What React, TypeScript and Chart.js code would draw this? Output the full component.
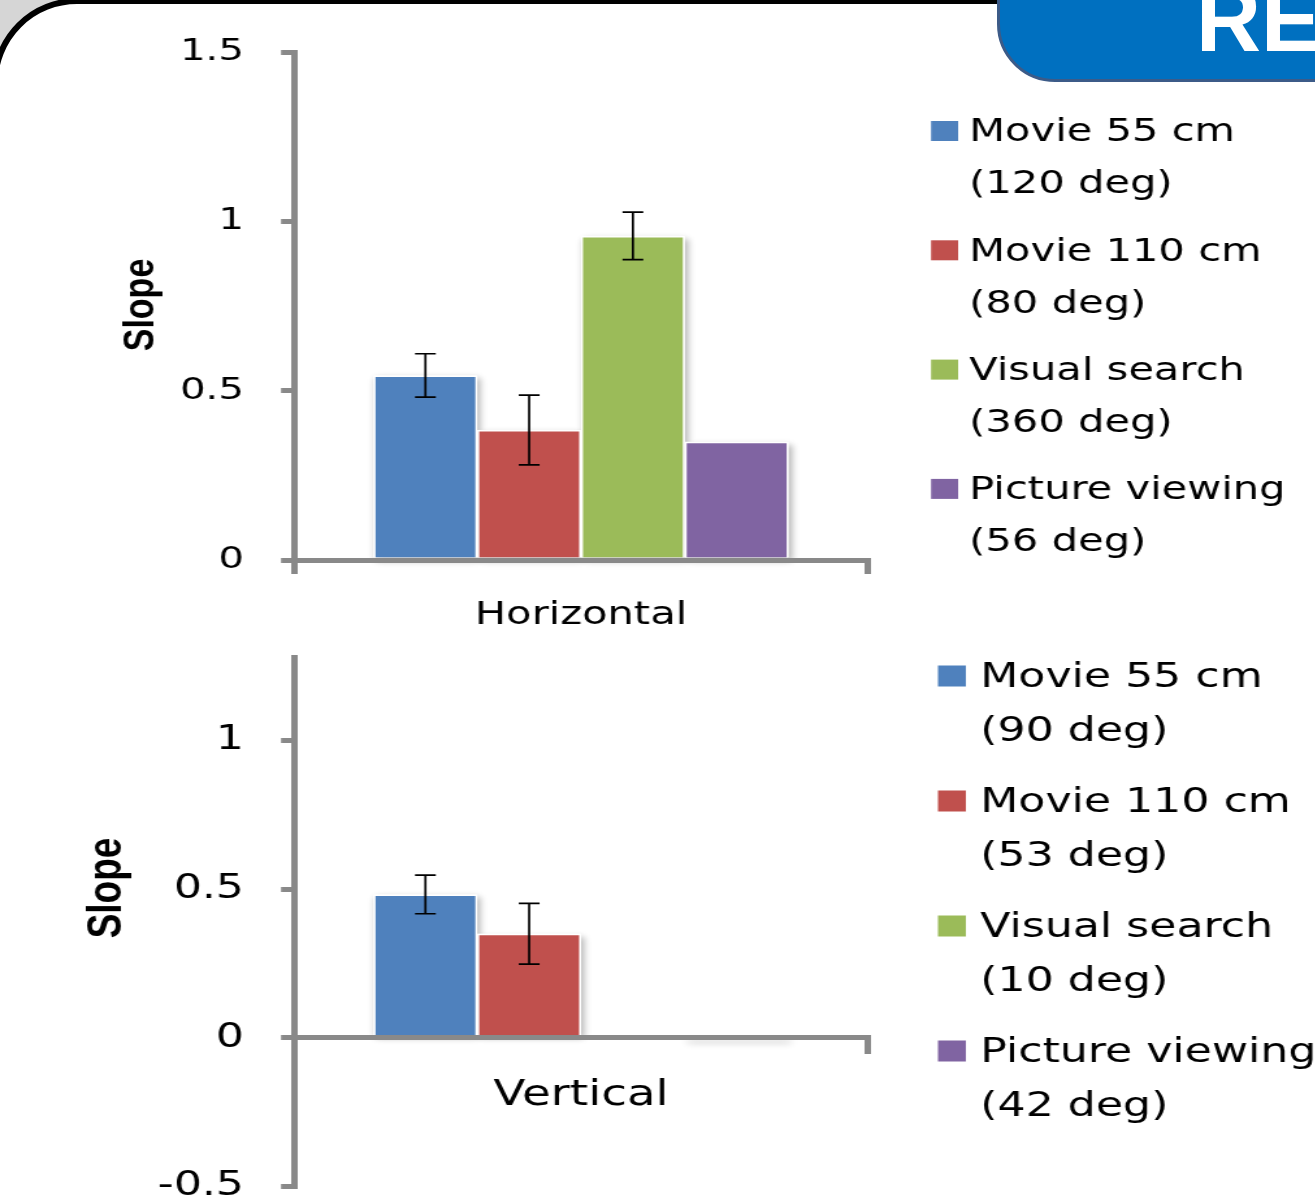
import { useEffect, useRef } from 'react';
import { Chart, registerables } from 'chart.js';

Chart.register(...registerables);

// ---- data ----
const seriesNames = ['Movie 55 cm', 'Movie 110 cm', 'Visual search', 'Picture viewing'];
const seriesColors = ['#4f81bd', '#c0504d', '#9bbb59', '#8064a2'];

const horizontalCategory = ['Horizontal'];
const horizontalFov = ['(120 deg)', '(80 deg)', '(360 deg)', '(56 deg)'];
const horizontalSlopes: (number | null)[] = [0.545, 0.384, 0.957, 0.349];
const horizontalErrors: (number | null)[] = [0.064, 0.103, 0.07, null];
const horizontalRange = [0, 1.5];

const verticalCategory = ['Vertical'];
const verticalFov = ['(90 deg)', '(53 deg)', '(10 deg)', '(42 deg)'];
const verticalSlopes: (number | null)[] = [0.482, 0.35, null, 0];
const verticalErrors: (number | null)[] = [0.065, 0.102, null, null];
const verticalRange = [-0.5, 1.28];

const tickStep = 0.5;
const axisTitle = 'Slope';

// ---- look ----
const STRETCH = 1.3;
const CANVAS_W = 1012;
const AXIS_GREY = '#898989';
const TEXT_FONT = '"DejaVu Sans", Verdana, sans-serif';
const TITLE_FONT = '"Liberation Sans", Arial, sans-serif';

type LegendSpec = {
  boxX: number; boxW: number; boxH: number; textX: number;
  firstY: number; entryGap: number; lineGap: number; font: number;
};

type PanelSpec = {
  top: number; height: number;
  category: string[]; values: (number | null)[]; errors: (number | null)[]; fov: string[];
  range: number[];
  padTop: number; padBottom: number; padRight: number; yAxisWidth: number;
  xAxisHeight: number; xPosition: any;
  tickFont: number; labelFont: number; labelPad: number;
  caption: { x: number; y: number; size: number };
  legend: LegendSpec;
};

const panels: PanelSpec[] = [
  {
    top: 0, height: 640,
    category: horizontalCategory, values: horizontalSlopes, errors: horizontalErrors, fov: horizontalFov,
    range: horizontalRange,
    padTop: 52, padBottom: 0, padRight: 344.3, yAxisWidth: 226.2,
    xAxisHeight: 80, xPosition: 'bottom',
    tickFont: 31, labelFont: 32, labelPad: 22.8,
    caption: { x: 108.5, y: 305, size: 34 },
    legend: { boxX: 716.2, boxW: 20.8, boxH: 20, textX: 745.5, firstY: 133, entryGap: 119.3, lineGap: 52, font: 32 },
  },
  {
    top: 600, height: 604,
    category: verticalCategory, values: verticalSlopes, errors: verticalErrors, fov: verticalFov,
    range: verticalRange,
    padTop: 57, padBottom: 17.4, padRight: 344.3, yAxisWidth: 226.2,
    xAxisHeight: 0, xPosition: { y: 0 },
    tickFont: 34, labelFont: 36, labelPad: 22.4,
    caption: { x: 83, y: 288, size: 37 },
    legend: { boxX: 721.5, boxW: 21.5, boxH: 21, textX: 754, firstY: 78, entryGap: 125, lineGap: 54.5, font: 34 },
  },
];

// soft drop shadow behind each bar
const barShadow = {
  id: 'barShadow',
  beforeDatasetsDraw(chart: any) {
    const ctx = chart.ctx;
    chart.data.datasets.forEach((ds: any, i: number) => {
      const meta = chart.getDatasetMeta(i);
      meta.data.forEach((el: any, j: number) => {
        const v = ds.data[j];
        if (v === null || v === undefined) return;
        const { x, y, base, width } = el.getProps(['x', 'y', 'base', 'width'], true);
        const top = Math.min(y, base);
        const h = Math.max(Math.abs(base - y), 2);
        ctx.save();
        ctx.shadowColor = 'rgba(0,0,0,0.32)';
        ctx.shadowBlur = 6;
        ctx.shadowOffsetX = 2;
        ctx.shadowOffsetY = 3;
        ctx.fillStyle = '#ffffff';
        ctx.fillRect(x - width / 2, top, width, h);
        ctx.restore();
      });
    });
  },
};

function makeErrorBars(errors: (number | null)[]) {
  return {
    id: 'errorBars',
    afterDatasetsDraw(chart: any) {
      const ctx = chart.ctx;
      const yScale = chart.scales.y;
      const cap = 8;
      chart.data.datasets.forEach((ds: any, i: number) => {
        const e = errors[i];
        const v = ds.data[0];
        if (e === null || e === undefined || v === null || v === undefined) return;
        const el = chart.getDatasetMeta(i).data[0];
        const x = el.x;
        const yHi = yScale.getPixelForValue(v + e);
        const yLo = yScale.getPixelForValue(v - e);
        ctx.save();
        ctx.strokeStyle = '#000';
        ctx.lineWidth = 1.7;
        ctx.beginPath();
        ctx.moveTo(x, yHi); ctx.lineTo(x, yLo);
        ctx.moveTo(x - cap, yHi); ctx.lineTo(x + cap, yHi);
        ctx.moveTo(x - cap, yLo); ctx.lineTo(x + cap, yLo);
        ctx.stroke();
        ctx.restore();
      });
    },
  };
}

function makeLegend(spec: LegendSpec, fov: string[]) {
  return {
    id: 'sideLegend',
    afterDraw(chart: any) {
      const ctx = chart.ctx;
      ctx.save();
      ctx.font = `${spec.font}px ${TEXT_FONT}`;
      ctx.textAlign = 'left';
      ctx.textBaseline = 'middle';
      chart.data.datasets.forEach((ds: any, i: number) => {
        const cy = spec.firstY + i * spec.entryGap;
        ctx.fillStyle = ds.backgroundColor;
        ctx.fillRect(spec.boxX, cy - 2 - spec.boxH / 2, spec.boxW, spec.boxH);
        ctx.fillStyle = '#000';
        ctx.fillText(ds.label, spec.textX, cy);
        ctx.fillText(fov[i], spec.textX, cy + spec.lineGap);
      });
      ctx.restore();
    },
  };
}

function makeCaption(c: { x: number; y: number; size: number }) {
  return {
    id: 'yCaption',
    afterDraw(chart: any) {
      const ctx = chart.ctx;
      ctx.save();
      ctx.translate(c.x, c.y);
      ctx.rotate(-Math.PI / 2);
      ctx.font = `bold ${c.size}px ${TITLE_FONT}`;
      ctx.fillStyle = '#000';
      ctx.textAlign = 'center';
      ctx.textBaseline = 'middle';
      ctx.fillText(axisTitle, 0, 0);
      ctx.restore();
    },
  };
}

function SlopePanel({ spec }: { spec: PanelSpec }) {
  const ref = useRef<HTMLCanvasElement | null>(null);

  useEffect(() => {
    if (!ref.current) return;
    const datasets = seriesNames.map((name, i) => ({
      label: name,
      data: [spec.values[i]],
      backgroundColor: seriesColors[i],
      borderColor: '#ffffff',
      borderWidth: 1.5,
      categoryPercentage: 0.723,
      barPercentage: 1,
    }));

    const chart = new Chart(ref.current, {
      type: 'bar',
      data: { labels: spec.category, datasets },
      options: {
        responsive: false,
        animation: false,
        devicePixelRatio: 1,
        layout: { padding: { left: 0, top: spec.padTop, right: spec.padRight, bottom: spec.padBottom } },
        plugins: { legend: { display: false }, tooltip: { enabled: false }, title: { display: false } },
        scales: {
          x: {
            type: 'category',
            position: spec.xPosition,
            offset: true,
            ticks: {
              color: '#000',
              font: { family: TEXT_FONT, size: spec.labelFont },
              padding: spec.labelPad,
              maxRotation: 0,
            },
            grid: {
              offset: true,
              drawOnChartArea: false,
              drawTicks: true,
              tickLength: 14,
              lineWidth: 5,
              color: AXIS_GREY,
              z: 1,
            },
            border: { display: true, color: AXIS_GREY, width: 5, z: 1 },
            afterFit: (scale: any) => {
              scale.height = spec.xAxisHeight;
              scale.paddingLeft = 0;
              scale.paddingRight = 0;
            },
          },
          y: {
            type: 'linear',
            min: spec.range[0],
            max: spec.range[1],
            ticks: {
              stepSize: tickStep,
              color: '#000',
              font: { family: TEXT_FONT, size: spec.tickFont },
              padding: 28.5,
              callback: (value: any) => String(Number(value)),
            },
            grid: {
              drawOnChartArea: false,
              drawTicks: true,
              tickLength: 10,
              lineWidth: 5,
              color: AXIS_GREY,
              z: 1,
            },
            border: { display: true, color: AXIS_GREY, width: 5, z: 1 },
            afterBuildTicks: (scale: any) => {
              scale.ticks = scale.ticks.filter((t: any) => {
                const k = t.value / tickStep;
                return Math.abs(k - Math.round(k)) < 1e-6;
              });
            },
            afterFit: (scale: any) => {
              scale.width = spec.yAxisWidth;
              scale.paddingTop = 0;
              scale.paddingBottom = 0;
            },
          },
        },
      } as any,
      plugins: [barShadow, makeErrorBars(spec.errors), makeLegend(spec.legend, spec.fov), makeCaption(spec.caption)],
    });

    return () => chart.destroy();
  }, [spec]);

  return (
    <div
      style={{
        position: 'absolute',
        left: 0,
        top: spec.top,
        width: CANVAS_W,
        height: spec.height,
        transform: `scaleX(${STRETCH})`,
        transformOrigin: '0 0',
      }}
    >
      <canvas ref={ref} width={CANVAS_W} height={spec.height} style={{ display: 'block' }} />
    </div>
  );
}

export default function App() {
  return (
    <div
      style={{
        position: 'fixed',
        left: 0,
        top: 0,
        width: 1315,
        height: 1204,
        overflow: 'hidden',
        background: '#ffffff',
      }}
    >
      <div style={{ position: 'absolute', left: 0, top: 0, width: 120, height: 120, background: '#d6d6d6' }} />
      <div
        style={{
          position: 'absolute',
          left: -8,
          top: -2,
          width: 1600,
          height: 1600,
          boxSizing: 'border-box',
          border: '6px solid #000',
          borderRadius: 85,
          background: '#ffffff',
        }}
      />
      <div
        style={{
          position: 'absolute',
          left: 997,
          top: -40,
          width: 420,
          height: 122,
          boxSizing: 'border-box',
          background: '#0070c0',
          border: '3px solid #3c5b88',
          borderRadius: '0 0 0 58px',
          overflow: 'hidden',
        }}
      >
        <span
          style={{
            position: 'absolute',
            left: 196,
            top: 12,
            fontFamily: TITLE_FONT,
            fontWeight: 'bold',
            fontSize: 90,
            lineHeight: '90px',
            color: '#ffffff',
            whiteSpace: 'nowrap',
          }}
        >
          RE
        </span>
      </div>
      {panels.map((p, i) => (
        <SlopePanel key={i} spec={p} />
      ))}
    </div>
  );
}
